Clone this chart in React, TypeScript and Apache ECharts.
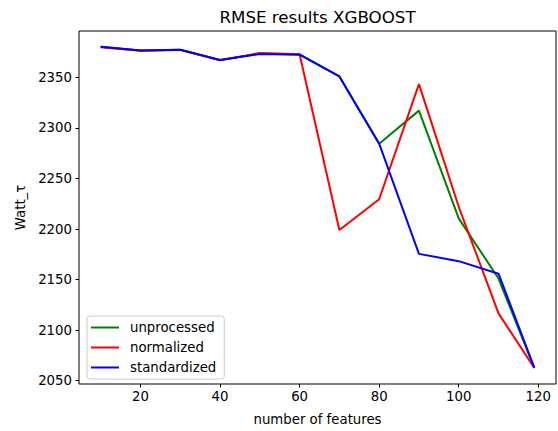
import React, { useEffect, useRef } from "react";
import * as echarts from "echarts";

// number of features used by the model
const featureCounts = [10, 20, 30, 40, 50, 60, 70, 80, 90, 100, 110, 119];

// RMSE per preprocessing variant
const unprocessed = [2380.5, 2376.8, 2377.5, 2367.3, 2373.5, 2372.9, 2351.0, 2284.5, 2317.2, 2210.5, 2151.0, 2062.5];
const normalized = [2380.0, 2376.5, 2377.3, 2367.0, 2374.2, 2372.9, 2199.0, 2229.5, 2343.4, 2222.0, 2116.5, 2062.5];
const standardized = [2380.5, 2376.8, 2377.5, 2367.3, 2373.3, 2372.6, 2351.0, 2284.5, 2175.4, 2168.2, 2155.8, 2062.5];

const xTicks = [20, 40, 60, 80, 100, 120];
const yTicks = [2050, 2100, 2150, 2200, 2250, 2300, 2350];

const FONT = "'DejaVu Sans', sans-serif";
const SIZE = 13.3;

const pairs = (ys: number[]) => featureCounts.map((x, i) => [x, ys[i]]);
const plain = (v: number) => String(v);

export default function App() {
  const ref = useRef<HTMLDivElement>(null);

  useEffect(() => {
    if (!ref.current) return;
    const chart = echarts.init(ref.current, undefined, { renderer: "svg" });

    const axisCommon = {
      type: "value" as const,
      splitLine: { show: false },
      axisLine: { show: false },
      axisTick: { show: true, length: 3.5, lineStyle: { color: "#000", width: 1 } },
      axisLabel: { color: "#000", fontFamily: FONT, fontSize: SIZE, formatter: plain },
      nameLocation: "middle" as const,
      nameTextStyle: { color: "#000", fontFamily: FONT, fontSize: SIZE },
    };

    chart.setOption({
      animation: false,
      backgroundColor: "#fff",
      grid: {
        left: 79,
        right: 2,
        top: 31,
        bottom: 45,
        show: true,
        borderColor: "#000",
        borderWidth: 1,
        backgroundColor: "transparent",
      },
      graphic: [
        {
          type: "text",
          x: 317.5,
          y: 16.5,
          style: {
            text: "RMSE results XGBOOST",
            fill: "#000",
            font: `16.7px ${FONT}`,
            textAlign: "center",
            textVerticalAlign: "middle",
          },
        },
      ],
      xAxis: {
        ...axisCommon,
        min: 4.55,
        max: 124.45,
        name: "number of features",
        nameGap: 29,
        axisTick: { ...axisCommon.axisTick, customValues: xTicks },
        axisLabel: { ...axisCommon.axisLabel, margin: 6, customValues: xTicks },
      },
      yAxis: {
        ...axisCommon,
        min: 2046.6,
        max: 2396.0,
        name: "Watt_τ",
        nameGap: 44,
        axisTick: { ...axisCommon.axisTick, customValues: yTicks },
        axisLabel: { ...axisCommon.axisLabel, margin: 7, customValues: yTicks },
      },
      legend: {
        orient: "vertical",
        left: 87,
        top: 316,
        icon: "rect",
        itemWidth: 28,
        itemHeight: 2,
        itemGap: 5,
        padding: [4, 8, 4, 4],
        backgroundColor: "rgba(255,255,255,0.8)",
        borderColor: "#cccccc",
        borderWidth: 1,
        borderRadius: 3,
        textStyle: {
          color: "#000",
          fontFamily: FONT,
          fontSize: SIZE,
          lineHeight: 15,
          padding: [0, 0, 0, 6],
        },
        data: ["unprocessed", "normalized", "standardized"],
      },
      series: [
        { name: "unprocessed", color: "#008000", data: pairs(unprocessed) },
        { name: "normalized", color: "#ff0000", data: pairs(normalized) },
        { name: "standardized", color: "#0000ff", data: pairs(standardized) },
      ].map((s) => ({
        type: "line",
        name: s.name,
        data: s.data,
        symbol: "none",
        lineStyle: { color: s.color, width: 2 },
        itemStyle: { color: s.color },
      })),
    });

    return () => chart.dispose();
  }, []);

  return (
    <div
      ref={ref}
      style={{ position: "fixed", left: 0, top: 0, width: 558, height: 431, background: "#fff" }}
    />
  );
}
